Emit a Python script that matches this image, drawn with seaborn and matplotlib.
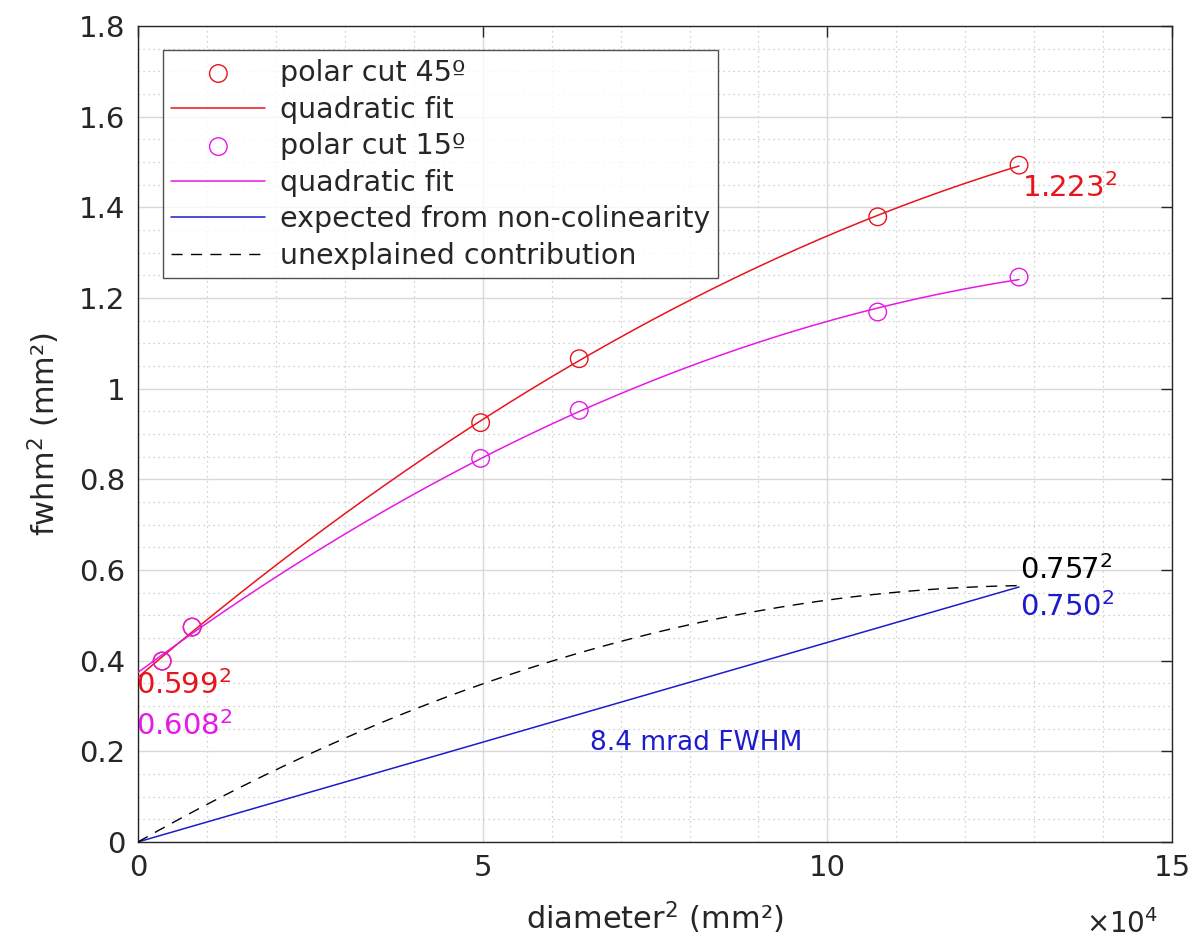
import numpy as np
import pandas as pd
import matplotlib
matplotlib.use("Agg")
import matplotlib.pyplot as plt
from matplotlib.ticker import MultipleLocator, FuncFormatter
import seaborn as sns

# Measured beam widths vs. aperture diameter (squared quantities)
diam2_mm2 = [3500, 7850, 49700, 64000, 107300, 127800]
fwhm2_45 = [0.399, 0.474, 0.925, 1.066, 1.379, 1.493]
fwhm2_15 = [0.399, 0.474, 0.846, 0.952, 1.169, 1.246]

# Non-colinearity contribution (linear in diameter^2), value at the largest aperture
noncol_end = 0.750 ** 2

sns.set_theme(style="white")
plt.rcParams["font.family"] = ["DejaVu Sans"]

RED = "#e8141c"
MAG = "#e619e6"
BLUE = "#1c1ccc"
INK = "#262626"

fig = plt.figure(figsize=(11.96, 9.44), dpi=100)
ax = fig.add_axes([0.1154, 0.1081, 0.8646, 0.8644])

x = np.array(diam2_mm2, dtype=float)
xf = np.linspace(0, x.max(), 300)
p45 = np.polyfit(x, fwhm2_45, 2)
p15 = np.polyfit(x, fwhm2_15, 2)
fit45 = np.polyval(p45, xf)
fit15 = np.polyval(p15, xf)
blue = noncol_end * xf / x.max()
unexpl = fit45 - p45[-1] - blue

pts = pd.DataFrame({"d": x, "a": fwhm2_45, "b": fwhm2_15})
curves = pd.DataFrame({"d": xf, "f45": fit45, "f15": fit15, "nc": blue, "un": unexpl})

sns.scatterplot(data=pts, x="d", y="a", ax=ax, marker="o", s=160,
                facecolors="none", edgecolor=RED, linewidth=1.0,
                label="polar cut 45º", zorder=4)
sns.lineplot(data=curves, x="d", y="f45", ax=ax, color=RED, lw=1.1,
             label="quadratic fit", zorder=3)
sns.scatterplot(data=pts, x="d", y="b", ax=ax, marker="o", s=160,
                facecolors="none", edgecolor=MAG, linewidth=1.0,
                label="polar cut 15º", zorder=4)
sns.lineplot(data=curves, x="d", y="f15", ax=ax, color=MAG, lw=1.1,
             label="quadratic fit", zorder=3)
sns.lineplot(data=curves, x="d", y="nc", ax=ax, color=BLUE, lw=1.1,
             label="expected from non-colinearity", zorder=3)
sns.lineplot(data=curves, x="d", y="un", ax=ax, color="black", lw=1.0,
             linestyle=(0, (8, 6)), label="unexplained contribution", zorder=3)

ax.set_xlim(0, 150000)
ax.set_ylim(0, 1.8)
ax.xaxis.set_major_locator(MultipleLocator(50000))
ax.xaxis.set_minor_locator(MultipleLocator(10000))
ax.yaxis.set_major_locator(MultipleLocator(0.2))
ax.yaxis.set_minor_locator(MultipleLocator(0.05))
ax.xaxis.set_major_formatter(FuncFormatter(lambda v, _: f"{v/1e4:g}"))
ax.yaxis.set_major_formatter(FuncFormatter(lambda v, _: f"{v:g}"))

ax.grid(which="major", color="#d8d8d8", lw=1.0, ls="-")
ax.grid(which="minor", color="#c4c4c4", lw=0.9, ls=(0, (1, 3)))
ax.set_axisbelow(True)
ax.tick_params(which="major", direction="in", length=8, width=1.0,
               top=True, right=True, labelsize=21, colors=INK, pad=9)
ax.tick_params(which="minor", length=0)
for s in ax.spines.values():
    s.set_color(INK)
    s.set_linewidth(1.0)
    s.set_visible(True)

ax.set_xlabel("diameter$^2$ (mm²)", fontsize=22, color=INK, labelpad=12)
ax.set_ylabel("fwhm$^2$ (mm²)", fontsize=22, color=INK, labelpad=12)
fig.text(0.908, 0.012, "$\\times10^4$", fontsize=20, color=INK)

# Annotations of the fitted widths
ax.text(128300, 1.475, "1.223$^2$", color=RED, fontsize=21, va="top")
ax.text(128000, 0.567, "0.757$^2$", color="black", fontsize=21, va="bottom")
ax.text(128000, 0.552, "0.750$^2$", color=BLUE, fontsize=21, va="top")
ax.text(-300, 0.378, "0.599$^2$", color=RED, fontsize=21, va="top")
ax.text(-300, 0.288, "0.608$^2$", color=MAG, fontsize=21, va="top")
ax.text(81000, 0.248, "8.4 mrad FWHM", color=BLUE, fontsize=19, va="top", ha="center")

leg = ax.legend(loc="upper left", bbox_to_anchor=(0.024, 0.97), fontsize=20.5,
                frameon=True, fancybox=False, edgecolor=INK,
                handlelength=3.3, handletextpad=0.5, borderpad=0.3,
                labelspacing=0.3, borderaxespad=0)
leg.get_frame().set_linewidth(1.0)

fig.savefig("out.png", dpi=100)
